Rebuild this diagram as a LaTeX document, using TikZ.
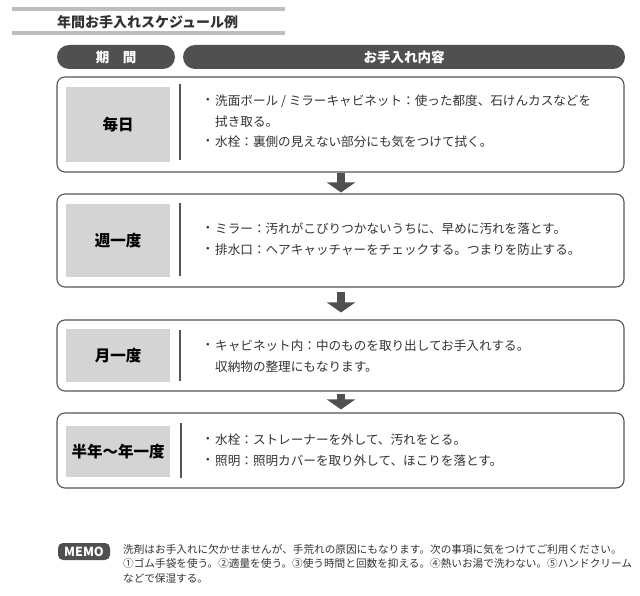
\documentclass[tikz,border=0pt]{standalone}
\usepackage{fontspec}
\setmainfont{Noto Sans CJK JP}
\usetikzlibrary{arrows.meta}
\definecolor{dk}{HTML}{505050}
\definecolor{lblgray}{HTML}{D4D4D4}
\definecolor{txt}{HTML}{333333}
\definecolor{rulegray}{HTML}{BDBDBD}
\definecolor{boxline}{HTML}{555555}
\tikzset{
  titlerule/.style={draw=rulegray, line width=3.5pt},
  headpill/.style={fill=dk, rounded corners=12pt, inner sep=0pt, minimum height=24pt,
     text=white, font=\fontsize{13.5}{15}\selectfont\bfseries},
  mainbox/.style={draw=boxline, line width=1.1pt, rounded corners=8pt, inner sep=0pt, minimum width=567pt},
  lblbox/.style={fill=lblgray, inner sep=0pt, minimum width=104pt, text=black,
     font=\fontsize{15.5}{18}\selectfont\bfseries},
  sepline/.style={draw=boxline, line width=1.1pt},
  bullet/.style={inner sep=0pt, text=txt, font=\fontsize{12.6}{14}\selectfont},
  itemtext/.style={anchor=west, inner sep=0pt, text=txt, font=\fontsize{12.6}{14}\selectfont},
  flowarrow/.style={draw=dk, line width=8pt, -{Triangle[width=28pt,length=10pt]}},
  memotext/.style={anchor=west, inner sep=0pt, text=txt, font=\fontsize{10.64}{12}\selectfont},
}
\begin{document}
\begin{tikzpicture}[x=1pt,y=-1pt]
\useasboundingbox (0,0) rectangle (640,596);
% title
\draw[titlerule] (12,9) -- (285,9);
\draw[titlerule] (12,33) -- (285,33);
\node[anchor=west, inner sep=0pt, font=\fontsize{14}{16}\selectfont\bfseries, text=txt] (title) at (57,22) {年間お手入れスケジュール例};
% headers
\node[headpill, minimum width=118pt] (hperiod) at (116,57) {期\hspace{1em}間};
\node[headpill, minimum width=442pt] (hcontent) at (404,57) {お手入れ内容};
% boxes
\node[mainbox, minimum height=95pt] (b1) at (340.5,124.5) {};
\node[mainbox, minimum height=93pt] (b2) at (340.5,240.5) {};
\node[mainbox, minimum height=71pt] (b3) at (340.5,355.5) {};
\node[mainbox, minimum height=75pt] (b4) at (340.5,450.5) {};
% labels
\node[lblbox, minimum height=75pt] (l1) at (118,124.5) {毎日};
\node[lblbox, minimum height=73pt] (l2) at (118,240.5) {週一度};
\node[lblbox, minimum height=53pt] (l3) at (118,355.5) {月一度};
\node[lblbox, minimum height=51pt] (l4) at (118,451.5) {半年〜年一度};
% separators
\draw[sepline] (180,84) -- (180,160);
\draw[sepline] (180,203) -- (180,276);
\draw[sepline] (180,330) -- (180,381);
\draw[sepline] (181,423) -- (181,478);
% box 1 text
\node[bullet] (d11) at (208,101) {・};
\node[itemtext] (t11) at (215,101) {洗面ボール / ミラーキャビネット：使った都度、石けんカスなどを};
\node[itemtext] (t12) at (215,121.5) {拭き取る。};
\node[bullet] (d13) at (208,142) {・};
\node[itemtext] (t13) at (215,142) {水栓：裏側の見えない部分にも気をつけて拭く。};
% box 2 text
\node[bullet] (d21) at (208,229) {・};
\node[itemtext] (t21) at (215,229) {ミラー：汚れがこびりつかないうちに、早めに汚れを落とす。};
\node[bullet] (d22) at (208,250) {・};
\node[itemtext] (t22) at (215,250) {排水口：ヘアキャッチャーをチェックする。つまりを防止する。};
% box 3 text
\node[bullet] (d31) at (208,346) {・};
\node[itemtext] (t31) at (215,346) {キャビネット内：中のものを取り出してお手入れする。};
\node[itemtext] (t32) at (215,367) {収納物の整理にもなります。};
% box 4 text
\node[bullet] (d41) at (208,440) {・};
\node[itemtext] (t41) at (215,440) {水栓：ストレーナーを外して、汚れをとる。};
\node[bullet] (d42) at (208,461) {・};
\node[itemtext] (t42) at (215,461) {照明：照明カバーを取り外して、ほこりを落とす。};
% arrows
\draw[flowarrow, shorten >=1pt] (b1.south -| 341,0) -- (b2.north -| 341,0);
\draw[flowarrow, shorten <=4pt, shorten >=7pt] (b2.south -| 341,0) -- (b3.north -| 341,0);
\draw[flowarrow, shorten <=2pt, shorten >=3pt] (b3.south -| 341,0) -- (b4.north -| 341,0);
% memo
\node[fill=dk, rounded corners=5pt, inner sep=0pt, minimum width=52pt, minimum height=17pt,
      text=white, font=\fontsize{12.5}{14}\selectfont\bfseries] (memo) at (84,551.5) {MEMO};
\node[memotext] (m1) at (123,549) {洗剤はお手入れに欠かせませんが、手荒れの原因にもなります。次の事項に気をつけてご利用ください。};
\node[memotext] (m2) at (123,563.5) {①ゴム手袋を使う。②適量を使う。③使う時間と回数を抑える。④熱いお湯で洗わない。⑤ハンドクリーム};
\node[memotext] (m3) at (123,578) {などで保湿する。};
\end{tikzpicture}
\end{document}
